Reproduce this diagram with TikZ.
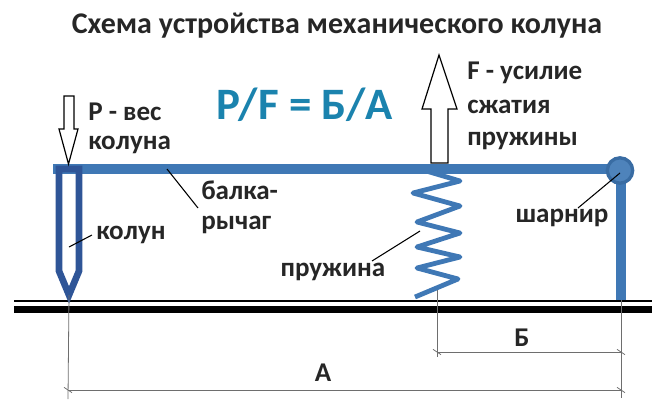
\documentclass[tikz,border=0pt]{standalone}
\usepackage{fontspec}
\setmainfont{Carlito}
\usepackage{tikz}
\usetikzlibrary{calc,arrows}
\definecolor{beamblue}{HTML}{3F78B5}
\definecolor{axeblue}{HTML}{2F5597}
\definecolor{formulablue}{HTML}{1B83AE}
\definecolor{dimgray}{HTML}{6E6E6E}
\tikzset{
    lbl/.style={font=\bfseries\fontsize{20.3}{22}\selectfont, text=black!85, inner sep=0pt},
    part/.style={color=beamblue, line width=7pt},
    leader/.style={color=black, line width=0.8pt},
    dimline/.style={color=dimgray, line width=0.6pt},
    forcearrow/.style={draw=black, fill=white, line width=0.9pt, line join=miter}
}
\begin{document}
\begin{tikzpicture}[x=0.75pt,y=-0.75pt]
    \useasboundingbox (0,0) rectangle (670,407);
    % title and formula
    \node[font=\bfseries\fontsize{22.5}{25}\selectfont, text=black!85, inner sep=0pt] (title) at (337,26) {Схема устройства механического колуна};
    \node[font=\bfseries\fontsize{33.7}{38}\selectfont, text=formulablue, inner sep=0pt] (formula) at (305,105) {P/F = Б/А};
    % ground
    \draw[color=black, line width=1.5pt] (14,301) -- (652,301);
    \draw[color=black, line width=5.5pt] (14,309.5) -- (652,309.5);
    % points
    \coordinate (beamL) at (53,169);
    \coordinate (beamR) at (619,169);
    \coordinate (postT) at (621,171);
    \coordinate (postB) at (621,300);
    \coordinate (axeTL) at (59,169);
    \coordinate (axeTR) at (79,169);
    \coordinate (axeTip) at (69,295);
    \coordinate (springB) at (437,290);
    % spring
    \draw[color=beamblue, line width=3.6pt, line join=round] (423,170) -- (460,181) -- (413,193) -- (460,206)
        -- (417,222) -- (460,233) -- (417,247) -- (460,257) -- (417,268) -- (458,279) -- (415,297);
    % beam, post, hinge
    \draw[part] (beamL) -- (beamR);
    \draw[part] (postT) -- (postB);
    \node[circle, draw=beamblue!90!black, fill=beamblue!92!white, line width=2.5pt, minimum size=19pt, inner sep=0pt] (hingec) at (620,170.5) {};
    % axe
    \draw[color=axeblue, line width=5pt, line join=miter] (axeTL) -- (axeTR) -- (79,271) -- (axeTip) -- (59,271) -- cycle;
    % forces
    \draw[forcearrow] (64,96) -- (74,96) -- (74,129) -- (78,129) -- (68.5,164) -- (59,129) -- (64,129) -- cycle;
    \draw[forcearrow] (431,163) -- (431,109) -- (422,109) -- (439,55) -- (457,109) -- (448,109) -- (448,163) -- cycle;
    % labels
    \node[lbl, anchor=west] (pweight) at (88,112) {P - вес};
    \node[lbl, anchor=west] (pweightb) at (88,145) {колуна};
    \node[lbl, anchor=west] (fforce) at (467,73) {F - усилие};
    \node[lbl, anchor=west] (fforceb) at (467,107) {сжатия};
    \node[lbl, anchor=west] (fforcec) at (467,141) {пружины};
    \node[lbl, anchor=west] (beamA) at (201,190) {балка-};
    \node[lbl, anchor=west] (beamB) at (201,225) {рычаг};
    \node[lbl, anchor=west] (axelbl) at (96,235) {колун};
    \node[lbl] (springlbl) at (333,272) {пружина};
    \node[lbl] (hingelbl) at (562,218) {шарнир};
    \node[lbl] (dimB) at (522,338) {Б};
    \node[lbl] (dimA) at (323,373) {А};
    % leaders
    \coordinate (beamPt) at (167,169);
    \coordinate (beamEnd) at (198,208);
    \coordinate (axePt) at (69,247);
    \coordinate (axeEnd) at (92,235);
    \coordinate (springPt) at (420,231);
    \coordinate (springEnd) at (372,261);
    \coordinate (hingePt) at (620,173);
    \coordinate (hingeEnd) at (578,208);
    \draw[leader] (beamPt) -- (beamEnd);
    \draw[leader] (axePt) -- (axeEnd);
    \draw[leader] (springPt) -- (springEnd);
    \draw[leader] (hingePt) -- (hingeEnd);
    % dimensions
    \draw[dimline] (axeTip) -- (68,399);
    \draw[dimline] (springB) -- (437,357);
    \draw[dimline] (postB) -- (621,398);
    \draw[dimline] (437,352) -- (621,352);
    \draw[dimline] (68,390) -- (621,390);
    \foreach \x/\y in {437/352, 621/352, 68/390, 621/390}
        \draw[shift={(\x,\y)},dimline] (-3pt,2pt) -- (3pt,-2pt);
\end{tikzpicture}
\end{document}
